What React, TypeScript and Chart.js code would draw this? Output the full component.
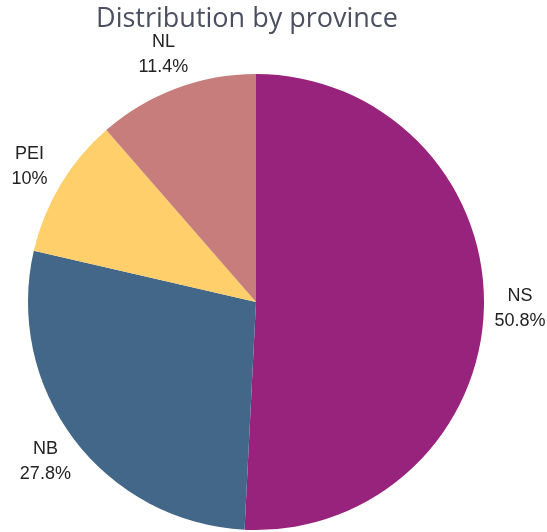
import React, { useEffect, useRef } from "react";
import { Chart, registerables } from "chart.js";

Chart.register(...registerables);

const titleText = "Distribution by province";
const categories = ["NS", "NB", "PEI", "NL"];
const values = [50.8, 27.8, 10, 11.4];
const valueLabels = ["50.8%", "27.8%", "10%", "11.4%"];
const colors = ["#98237c", "#436789", "#fecf6a", "#c67d7b"];

const outsideLabels = {
  id: "outsideLabels",
  afterDatasetsDraw(chart: any) {
    const ctx = chart.ctx;
    const meta = chart.getDatasetMeta(0);
    ctx.save();
    ctx.font = "18px 'Liberation Sans', Arial, sans-serif";
    ctx.fillStyle = "#222222";
    ctx.textAlign = "center";
    ctx.textBaseline = "middle";
    meta.data.forEach((arc: any, i: number) => {
      const { x, y, startAngle, endAngle, outerRadius } = arc.getProps(
        ["x", "y", "startAngle", "endAngle", "outerRadius"],
        true
      );
      const mid = (startAngle + endAngle) / 2;
      const r = outerRadius + 36;
      const cx = x + Math.cos(mid) * r;
      const cy = y + Math.sin(mid) * r;
      ctx.fillText(categories[i], cx, cy - 12.5);
      ctx.fillText(valueLabels[i], cx, cy + 12.5);
    });
    // title
    ctx.font = "27px 'Open Sans', sans-serif";
    ctx.fillStyle = "#4b4f62";
    ctx.textAlign = "center";
    ctx.textBaseline = "alphabetic";
    ctx.fillText(titleText, chart.chartArea.left + (chart.chartArea.right - chart.chartArea.left) / 2 - 9, 27);
    ctx.restore();
  },
};

export default function App() {
  const ref = useRef<HTMLCanvasElement>(null);
  useEffect(() => {
    if (!ref.current) return;
    const chart = new Chart(ref.current, {
      type: "pie",
      data: {
        labels: categories,
        datasets: [
          {
            data: values,
            backgroundColor: colors,
            borderWidth: 0,
          },
        ],
      },
      options: {
        animation: false,
        responsive: true,
        maintainAspectRatio: false,
        layout: { padding: { left: 28, right: 63, top: 74, bottom: 2 } },
        plugins: {
          legend: { display: false },
          tooltip: { enabled: false },
          title: { display: false },
        },
      },
      plugins: [outsideLabels],
    });
    return () => chart.destroy();
  }, []);
  return (
    <>
      <style>{"html,body{margin:0;padding:0;overflow:hidden;}"}</style>
      <div style={{ width: 547, height: 532, position: "relative" }}>
        <canvas ref={ref} />
      </div>
    </>
  );
}
